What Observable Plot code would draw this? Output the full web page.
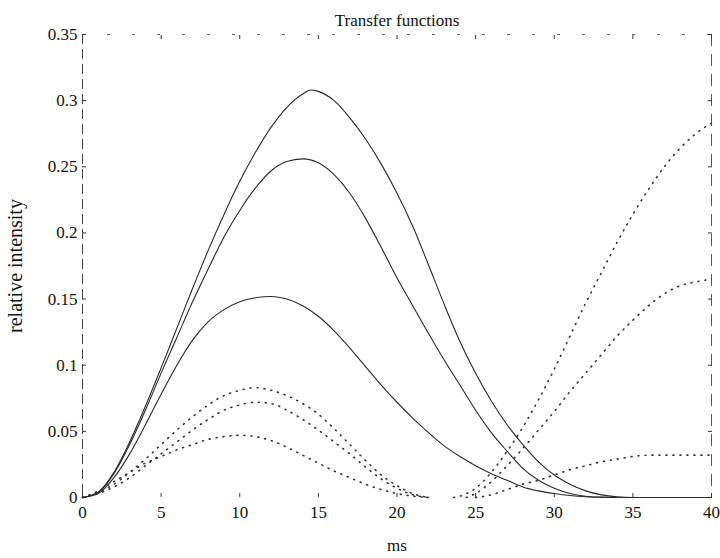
<!DOCTYPE html>
<html><head><meta charset="utf-8">
<script src="https://cdn.jsdelivr.net/npm/d3@7"></script>
<script src="https://cdn.jsdelivr.net/npm/@observablehq/plot@0.6"></script>
<style>body{margin:0;background:#fff}</style>
</head><body><div id="chart"></div>
<script>
const titleText = "Transfer functions";
const xLabel = "ms";
const yLabel = "relative intensity";
const xDomain = [0, 40];
const yDomain = [0, 0.35];
const xTicks = [0, 5, 10, 15, 20, 25, 30, 35, 40];
const xTickLabels = ["0", "5", "10", "15", "20", "25", "30", "35", "40"];
const yTicks = [0, 0.05, 0.1, 0.15, 0.2, 0.25, 0.3, 0.35];
const yTickLabels = ["0", "0.05", "0.1", "0.15", "0.2", "0.25", "0.3", "0.35"];

// solid curves
const solidA_x = [0, 1, 2, 3, 4, 5, 6, 7, 8, 9, 10, 11, 12, 13, 14, 14.5, 15, 16, 17, 18, 19, 20, 21, 22, 23, 24, 25, 26, 27, 28, 29, 30, 31, 32, 33, 34, 35, 40];
const solidA_y = [0, 0.004, 0.019, 0.042, 0.069, 0.098, 0.128, 0.158, 0.187, 0.214, 0.239, 0.261, 0.280, 0.295, 0.305, 0.308, 0.307, 0.300, 0.287, 0.271, 0.252, 0.230, 0.205, 0.176, 0.146, 0.118, 0.094, 0.073, 0.055, 0.040, 0.027, 0.017, 0.010, 0.005, 0.002, 0.0005, 0, 0];
const solidB_x = [0, 1, 2, 3, 4, 5, 6, 7, 8, 9, 10, 11, 12, 13, 14, 15, 16, 17, 18, 19, 20, 21, 22, 23, 24, 25, 26, 27, 28, 29, 30, 31, 32, 33, 34, 40];
const solidB_y = [0, 0.004, 0.018, 0.040, 0.066, 0.094, 0.121, 0.148, 0.173, 0.197, 0.217, 0.234, 0.247, 0.254, 0.256, 0.253, 0.244, 0.230, 0.211, 0.189, 0.166, 0.145, 0.124, 0.104, 0.085, 0.066, 0.049, 0.035, 0.022, 0.013, 0.007, 0.003, 0.001, 0.0003, 0, 0];
const solidC_x = [0, 1, 2, 3, 4, 5, 6, 7, 8, 9, 10, 11, 12, 13, 14, 15, 16, 17, 18, 19, 20, 21, 22, 23, 24, 25, 26, 27, 28, 29, 30, 31, 32, 33, 34, 40];
const solidC_y = [0, 0.003, 0.015, 0.033, 0.055, 0.078, 0.100, 0.119, 0.133, 0.142, 0.148, 0.151, 0.152, 0.150, 0.145, 0.137, 0.126, 0.113, 0.099, 0.085, 0.072, 0.060, 0.049, 0.039, 0.031, 0.024, 0.018, 0.013, 0.008, 0.005, 0.003, 0.0015, 0.0006, 0.0002, 0, 0];

// dotted curves, early peaks
const dotD1_x = [0, 1, 2, 3, 4, 5, 6, 7, 8, 9, 10, 11, 12, 13, 14, 15, 16, 17, 18, 19, 20, 21, 22];
const dotD1_y = [0, 0.004, 0.010, 0.019, 0.029, 0.040, 0.051, 0.061, 0.070, 0.077, 0.081, 0.083, 0.081, 0.077, 0.071, 0.063, 0.052, 0.040, 0.028, 0.017, 0.009, 0.003, 0];
const dotD2_x = [0, 1, 2, 3, 4, 5, 6, 7, 8, 9, 10, 11, 12, 13, 14, 15, 16, 17, 18, 19, 20, 21, 22];
const dotD2_y = [0, 0.003, 0.008, 0.015, 0.024, 0.033, 0.042, 0.051, 0.059, 0.066, 0.070, 0.072, 0.071, 0.066, 0.059, 0.051, 0.042, 0.033, 0.023, 0.014, 0.007, 0.002, 0];
const dotD3_x = [0, 1, 2, 3, 4, 5, 6, 7, 8, 9, 10, 11, 12, 13, 14, 15, 16, 17, 18, 19, 20, 21, 22];
const dotD3_y = [0, 0.005, 0.012, 0.019, 0.026, 0.031, 0.036, 0.040, 0.044, 0.046, 0.047, 0.046, 0.043, 0.038, 0.032, 0.026, 0.020, 0.015, 0.010, 0.006, 0.003, 0.001, 0];

// dotted curves, late rise
const dotE1_x = [23.6, 24, 25, 26, 27, 28, 29, 30, 31, 32, 33, 34, 35, 36, 37, 38, 39, 40];
const dotE1_y = [0, 0.001, 0.007, 0.019, 0.035, 0.053, 0.074, 0.097, 0.122, 0.147, 0.170, 0.193, 0.214, 0.233, 0.250, 0.264, 0.275, 0.283];
const dotE2_x = [24.4, 25, 26, 27, 28, 29, 30, 31, 32, 33, 34, 35, 36, 37, 38, 39, 40];
const dotE2_y = [0, 0.003, 0.012, 0.024, 0.037, 0.051, 0.065, 0.080, 0.094, 0.108, 0.122, 0.134, 0.145, 0.154, 0.160, 0.163, 0.165];
const dotE3_x = [25, 26, 27, 28, 29, 30, 31, 32, 33, 34, 35, 36, 37, 38, 39, 40];
const dotE3_y = [0, 0.002, 0.006, 0.010, 0.013, 0.017, 0.021, 0.024, 0.027, 0.029, 0.031, 0.032, 0.032, 0.032, 0.032, 0.032];

const toRows = (name, xs, ys) => xs.map((x, i) => ({series: name, x, y: ys[i]}));
const solidRows = [
  ...toRows("A", solidA_x, solidA_y),
  ...toRows("B", solidB_x, solidB_y),
  ...toRows("C", solidC_x, solidC_y)
];
const dottedRows = [
  ...toRows("D1", dotD1_x, dotD1_y),
  ...toRows("D2", dotD2_x, dotD2_y),
  ...toRows("D3", dotD3_x, dotD3_y),
  ...toRows("E1", dotE1_x, dotE1_y),
  ...toRows("E2", dotE2_x, dotE2_y),
  ...toRows("E3", dotE3_x, dotE3_y)
];

const font = "'Liberation Serif', 'Times New Roman', serif";
const chart = Plot.plot({
  width: 720,
  height: 558,
  marginLeft: 82,
  marginRight: 9,
  marginTop: 34,
  marginBottom: 61,
  style: {fontFamily: font, fontSize: "17px", background: "#fff", color: "#111"},
  x: {domain: xDomain},
  y: {domain: yDomain},
  marks: [
    Plot.ruleX([xDomain[0]], {stroke: "#444", strokeDasharray: "10,5"}),
    Plot.ruleX([xDomain[1]], {stroke: "#555", strokeDasharray: "12,8"}),
    Plot.ruleY([yDomain[1]], {stroke: "#666", strokeDasharray: "3,22"}),
    Plot.axisX({ticks: xTicks, tickSize: 0, tickPadding: 8, tickFormat: d => xTickLabels[xTicks.indexOf(d)],
      label: xLabel, labelAnchor: "center", labelOffset: 53, labelArrow: "none", fontSize: 17}),
    Plot.axisX({ticks: xTicks, tickSize: -4, tickFormat: () => "", label: null, stroke: "#333"}),
    Plot.axisX({anchor: "top", ticks: xTicks, tickSize: -4, tickFormat: () => "", label: null, stroke: "#333"}),
    Plot.axisY({ticks: yTicks, tickSize: 0, tickPadding: 5, tickFormat: d => yTickLabels[yTicks.indexOf(d)],
      label: null, fontSize: 17}),
    Plot.axisY({ticks: yTicks, tickSize: -4, tickFormat: () => "", label: null, stroke: "#333"}),
    Plot.axisY({anchor: "right", ticks: yTicks, tickSize: -4, tickFormat: () => "", label: null, stroke: "#333"}),
    Plot.line(solidRows, {x: "x", y: "y", z: "series", stroke: "#2a2a2a", strokeWidth: 1.1, curve: "monotone-x"}),
    Plot.line(dottedRows, {x: "x", y: "y", z: "series", stroke: "#333", strokeWidth: 1.6, strokeDasharray: "1,6", curve: "monotone-x"}),
    Plot.text([titleText], {frameAnchor: "top", lineAnchor: "middle", dy: -14, fontSize: 17, fill: "#111"}),
    Plot.text([yLabel], {frameAnchor: "left", lineAnchor: "middle", textAnchor: "middle", rotate: -90, dx: -67, fontSize: 20, fill: "#111"})
  ]
});
document.getElementById("chart").appendChild(chart);
</script>
</body></html>
